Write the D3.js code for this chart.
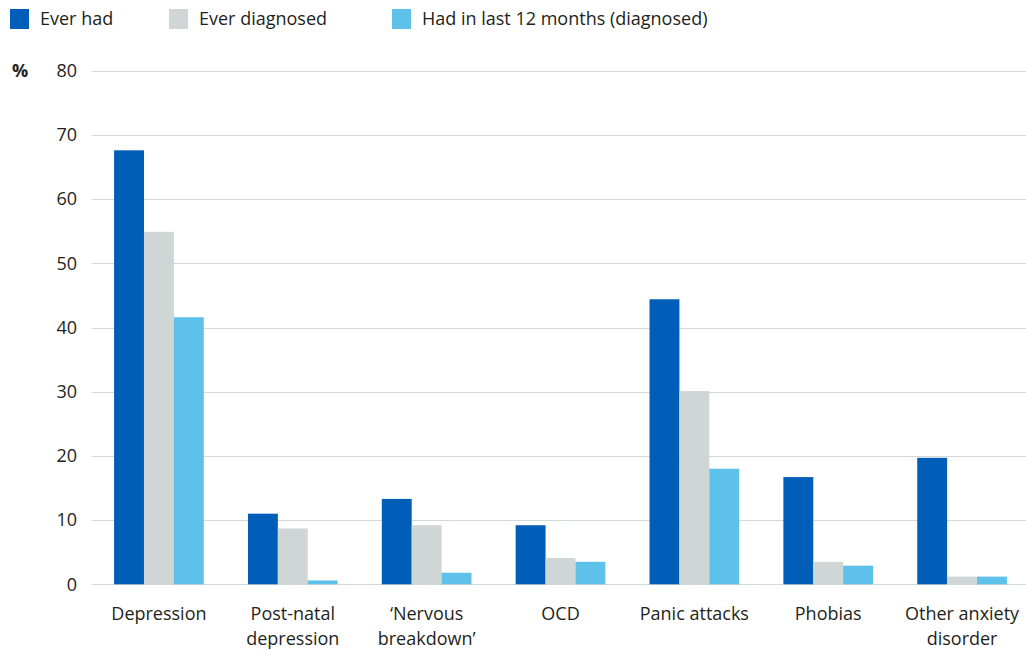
<!DOCTYPE html>
<html>
<head>
<meta charset="utf-8">
<script src="https://cdn.jsdelivr.net/npm/d3@7"></script>
<style>
  body { margin: 0; background: #fff; }
  svg text { font-family: "Open Sans", sans-serif; fill: #231f20; }
</style>
</head>
<body>
<div id="chart"></div>
<script>
const categories = ['Depression', 'Post-natal|depression', '\u2018Nervous|breakdown\u2019', 'OCD', 'Panic attacks', 'Phobias', 'Other anxiety|disorder'];
const seriesNames = ['Ever had', 'Ever diagnosed', 'Had in last 12 months (diagnosed)'];
const everHad = [67.6, 11.0, 13.3, 9.2, 44.4, 16.7, 19.7];
const everDiagnosed = [54.9, 8.7, 9.2, 4.1, 30.1, 3.5, 1.2];
const last12Months = [41.6, 0.6, 1.8, 3.5, 18.0, 2.9, 1.2];
const yTicks = [0, 10, 20, 30, 40, 50, 60, 70, 80];
const colors = ['#005eb8', '#d0d5d6', '#5ec1ea'];

const width = 1026, height = 651;
const seriesValues = [everHad, everDiagnosed, last12Months];
const data = categories.map((c, i) => ({ cat: c, values: seriesValues.map(s => s[i]) }));

const svg = d3.select('#chart').append('svg')
    .attr('width', width)
    .attr('height', height);

const x0 = d3.scaleBand()
    .domain(categories)
    .range([92, 1029])
    .paddingInner(0.33)
    .paddingOuter(0.165);

const x1 = d3.scaleBand()
    .domain(d3.range(seriesNames.length))
    .range([0, x0.bandwidth()]);

const y = d3.scaleLinear()
    .domain([0, 80])
    .range([584.3, 70.7]);

// gridlines
svg.append('g')
    .selectAll('line')
    .data(yTicks)
    .enter().append('line')
    .attr('x1', 92)
    .attr('x2', width)
    .attr('y1', d => Math.round(y(d)) + 0.5)
    .attr('y2', d => Math.round(y(d)) + 0.5)
    .attr('stroke', '#d3d8d9')
    .attr('stroke-width', 1);

// y labels
svg.append('g')
    .selectAll('text')
    .data(yTicks)
    .enter().append('text')
    .attr('x', 77)
    .attr('y', d => y(d))
    .attr('dy', '0.35em')
    .attr('text-anchor', 'end')
    .attr('font-size', 18)
    .text(d => d);

svg.append('text')
    .attr('x', 12)
    .attr('y', y(80))
    .attr('dy', '0.35em')
    .attr('font-size', 18)
    .attr('font-weight', 'bold')
    .text('%');

// bars
const groups = svg.append('g')
    .selectAll('g')
    .data(data)
    .enter().append('g')
    .attr('transform', d => `translate(${x0(d.cat)},0)`);

groups.selectAll('rect')
    .data(d => d.values)
    .enter().append('rect')
    .attr('x', (d, i) => x1(i))
    .attr('width', x1.bandwidth())
    .attr('y', d => y(d))
    .attr('height', d => y(0) - y(d))
    .attr('fill', (d, i) => colors[i]);

// x labels
const xLabels = svg.append('g')
    .selectAll('text')
    .data(categories)
    .enter().append('text')
    .attr('text-anchor', 'middle')
    .attr('font-size', 18)
    .attr('transform', d => `translate(${x0(d) + x0.bandwidth() / 2},620)`);

xLabels.selectAll('tspan')
    .data(d => d.split('|'))
    .enter().append('tspan')
    .attr('x', 0)
    .attr('y', (d, i) => i * 25)
    .text(d => d);

// legend
const legendX = [10, 169, 392];
const legend = svg.append('g')
    .selectAll('g')
    .data(seriesNames)
    .enter().append('g')
    .attr('transform', (d, i) => `translate(${legendX[i]},9)`);

legend.append('rect')
    .attr('width', 19)
    .attr('height', 20)
    .attr('fill', (d, i) => colors[i]);

legend.append('text')
    .attr('x', 30)
    .attr('y', 10)
    .attr('dy', '0.35em')
    .attr('font-size', 18)
    .text(d => d);
</script>
</body>
</html>
